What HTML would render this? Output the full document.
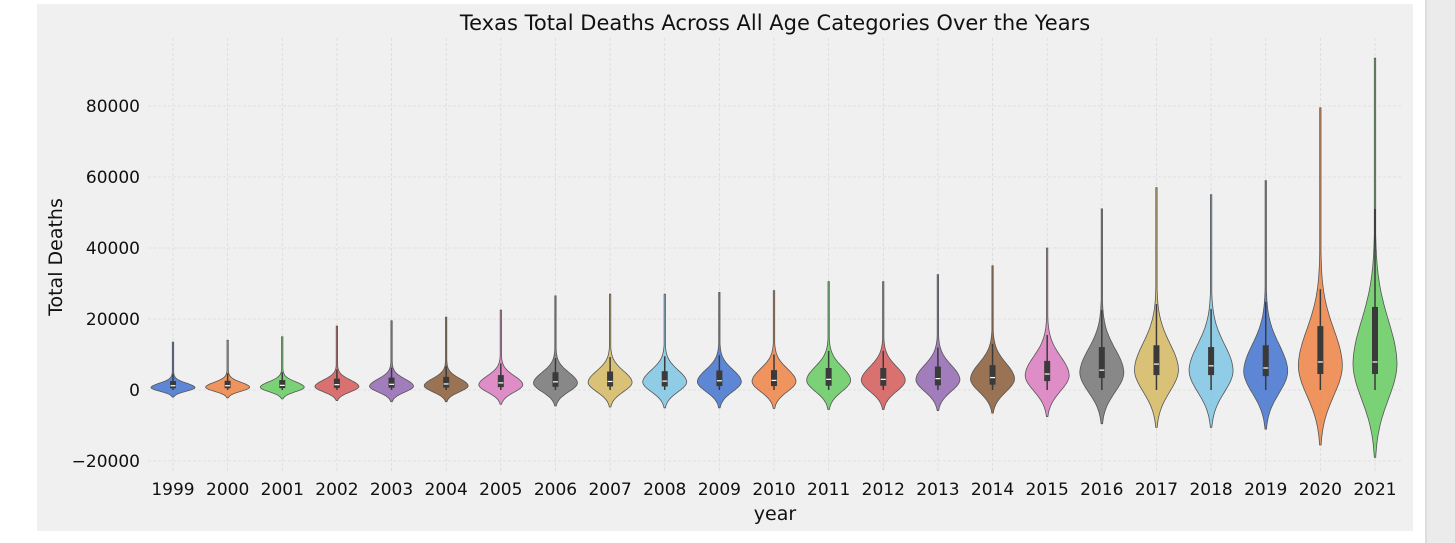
<!DOCTYPE html>
<html><head><meta charset="utf-8"><style>
html,body{margin:0;padding:0;background:#fff;width:1455px;height:543px;overflow:hidden;font-family:"Liberation Sans","DejaVu Sans",sans-serif}
</style></head><body>
<svg id="chart" width="1455" height="543" xmlns="http://www.w3.org/2000/svg" font-family="DejaVu Sans, Liberation Sans, sans-serif">
<rect x="37" y="4" width="1376" height="527" fill="#f0f0f0"/>
<rect x="1425" y="0" width="30" height="543" fill="#ebebeb"/>
<rect x="1425" y="0" width="2" height="543" fill="#dedede"/>
<g id="grid"></g>
<g id="violins"></g>
<g id="yticks"></g>
<g id="xticks"></g>
<text x="775" y="30" text-anchor="middle" font-size="21" fill="#111">Texas Total Deaths Across All Age Categories Over the Years</text>
<text transform="translate(62,257) rotate(-90)" text-anchor="middle" font-size="19" fill="#111">Total Deaths</text>
<text x="775" y="520" text-anchor="middle" font-size="19" fill="#111">year</text>
</svg>
<script>
const years=[1999,2000,2001,2002,2003,2004,2005,2006,2007,2008,2009,2010,2011,2012,2013,2014,2015,2016,2017,2018,2019,2020,2021];
const vTop=[13500,14000,15000,18000,19500,20500,22500,26500,27000,27000,27500,28000,30500,30500,32500,35000,40000,51000,57000,55000,59000,79500,93500];
const vBottom=[-2000,-2200,-2500,-3000,-3300,-3300,-4000,-4500,-4800,-5000,-5000,-5200,-5500,-5500,-5800,-6500,-7500,-9500,-10500,-10500,-11000,-15500,-19000];
const vMode=[700,800,800,1000,1100,1200,1500,2000,2200,2300,2400,2500,2800,2800,3000,3200,4200,5000,5800,5600,5400,7000,7600];
const q1=[500,500,550,600,650,700,800,900,1000,1000,1100,1100,1200,1200,1300,1500,2500,3400,4200,4200,3900,4500,4500];
const med=[1200,1200,1300,1500,1600,1700,2000,2300,2400,2500,2600,2700,3000,3000,3200,3500,4500,5600,7300,6800,6200,7900,7900];
const q3=[2500,2600,2800,3200,3500,3700,4200,5000,5200,5300,5500,5600,6200,6200,6600,7000,8200,12100,12600,12100,12600,18000,23400];
const whiskerHigh=[4500,4700,5000,5800,6300,6700,7500,9000,9300,9500,9800,10000,11000,11000,12000,13000,15500,22500,24200,22800,24800,28400,51000];
const yTicks=[-20000,0,20000,40000,60000,80000];
const yTickLabels=["\u221220000","0","20000","40000","60000","80000"];
const palette=["#4878d0","#ee854a","#6acc64","#d65f5f","#956cb4","#8c613c","#dc7ec0","#797979","#d5bb67","#82c6e2"];
const NS="http://www.w3.org/2000/svg";
const y=v=>390-v*71/20000;
const x=i=>173+i*(1375-173)/(years.length-1);
const halfW=22;
function mk(t,a,p){const e=document.createElementNS(NS,t);for(const k in a)e.setAttribute(k,a[k]);p.appendChild(e);return e;}
const grid=document.getElementById('grid'),vg=document.getElementById('violins'),yt=document.getElementById('yticks'),xt=document.getElementById('xticks');
yTicks.forEach((v,i)=>{
 const l=mk('line',{x1:148,x2:1403,y1:y(v),y2:y(v),stroke:'#dadada','stroke-width':0.8,'stroke-dasharray':'3,2'},grid);
 
 
 const t=mk('text',{x:140,y:y(v)+6,'text-anchor':'end','font-size':17,fill:'#111'},yt);
 t.textContent=yTickLabels[i];
 
 
});
years.forEach((yr,i)=>{
 const cx=x(i);
 const l=mk('line',{x1:cx,x2:cx,y1:38,y2:472,stroke:'#dadada','stroke-width':0.8,'stroke-dasharray':'3,2'},grid);
 
 
 const t=mk('text',{x:cx,y:495,'text-anchor':'middle','font-size':17,fill:'#111'},xt);
 t.textContent=yr;
 
 
 const top=vTop[i],bot=vBottom[i],m=vMode[i];
 const sL=(m-bot)/2.6, sU=(m-bot)/2.2, tau=(top-m)/3.5;
 const h=v=>{let r; if(v<m) r=Math.exp(-0.5*((v-m)/sL)**2); else r=0.9*Math.exp(-0.5*((v-m)/sU)**2)+0.1*Math.exp(-(v-m)/tau); return Math.max(r,0.03);};
 const N=120, right=[], left=[];
 for(let k=0;k<=N;k++){const v=bot+(top-bot)*k/N; const w=halfW*h(v); right.push([cx+w,y(v)]); left.push([cx-w,y(v)]);}
 let d='M'+right.map(p=>p[0].toFixed(1)+','+p[1].toFixed(1)).join('L')+'L'+left.reverse().map(p=>p[0].toFixed(1)+','+p[1].toFixed(1)).join('L')+'Z';
 const p=mk('path',{d:d,fill:palette[i%10],'fill-opacity':0.88,stroke:'#555','stroke-width':0.8},vg);
 
 
 const wl=mk('line',{x1:cx,x2:cx,y1:y(0),y2:y(whiskerHigh[i]),stroke:'#3a3a3a','stroke-width':1.5},vg);
 
 
 const b=mk('rect',{x:cx-3,y:y(q3[i]),width:6,height:y(q1[i])-y(q3[i]),fill:'#3a3a3a'},vg);
 
 
 const md=mk('line',{x1:cx-2.5,x2:cx+2.5,y1:y(med[i]),y2:y(med[i]),stroke:'#fff','stroke-width':1.2},vg);
 
 
});
</script>
</body></html>
